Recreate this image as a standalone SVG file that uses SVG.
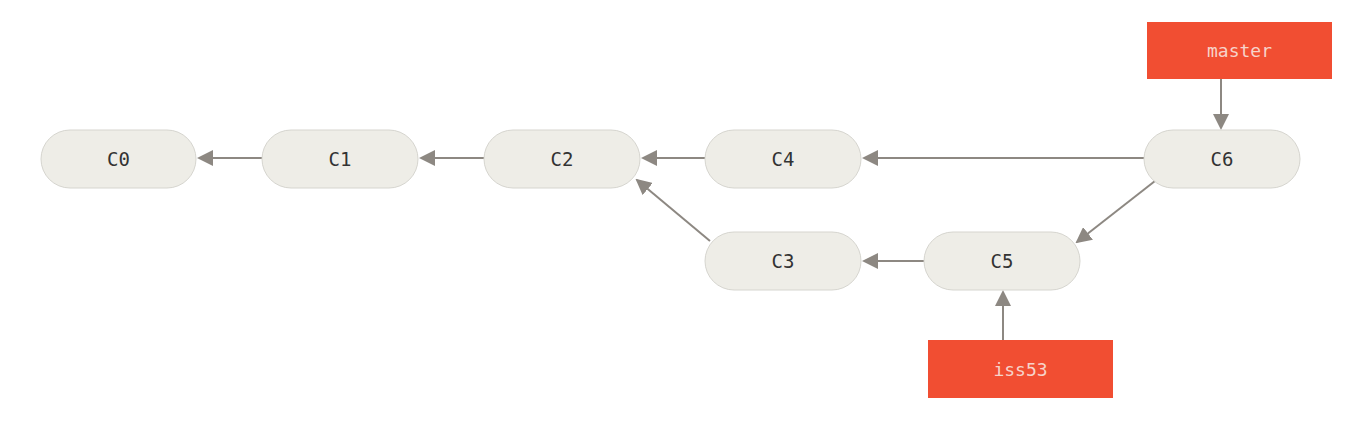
<svg xmlns="http://www.w3.org/2000/svg" width="1366" height="436" viewBox="0 0 1366 436">
<style>
.commit rect{fill:#eeede7;stroke:#d6d5cf;stroke-width:1}
.commit text{font-family:"DejaVu Sans Mono","Liberation Mono",monospace;font-size:19px;fill:#333;text-anchor:middle;dominant-baseline:central}
.branch rect{fill:#f14e32}
.branch text{font-family:"DejaVu Sans Mono","Liberation Mono",monospace;font-size:18px;fill:#f7d3ca;text-anchor:middle;dominant-baseline:central}
.conn line{stroke:#8d8882;stroke-width:2;marker-end:url(#ah)}
</style>
<defs>
<marker id="ah" markerWidth="8" markerHeight="8" refX="7" refY="4" orient="auto" markerUnits="strokeWidth">
<path d="M0,0 L8,4 L0,8 Z" fill="#8d8882"/>
</marker>
</defs>
<rect width="1366" height="436" fill="#fff"/>
<g class="conn">
<line x1="262" y1="158" x2="199" y2="158"/>
<line x1="484" y1="158" x2="421" y2="158"/>
<line x1="705" y1="158" x2="643" y2="158"/>
<line x1="1144" y1="158" x2="864" y2="158"/>
<line x1="924" y1="261" x2="864" y2="261"/>
<line x1="710" y1="241" x2="637" y2="180"/>
<line x1="1155" y1="181" x2="1077" y2="242"/>
<line x1="1221" y1="79" x2="1221" y2="128"/>
<line x1="1003" y1="340" x2="1003" y2="292"/>
</g>
<g id="C0" class="commit"><rect x="41" y="130" width="155" height="58" rx="29"/><text x="118.5" y="159">C0</text></g>
<g id="C1" class="commit"><rect x="262" y="130" width="156" height="58" rx="29"/><text x="340" y="159">C1</text></g>
<g id="C2" class="commit"><rect x="484" y="130" width="156" height="58" rx="29"/><text x="562" y="159">C2</text></g>
<g id="C4" class="commit"><rect x="705" y="130" width="156" height="58" rx="29"/><text x="783" y="159">C4</text></g>
<g id="C6" class="commit"><rect x="1144" y="130" width="156" height="58" rx="29"/><text x="1222" y="159">C6</text></g>
<g id="C3" class="commit"><rect x="705" y="232" width="156" height="58" rx="29"/><text x="783" y="261">C3</text></g>
<g id="C5" class="commit"><rect x="924" y="232" width="156" height="58" rx="29"/><text x="1002" y="261">C5</text></g>
<g id="master" class="branch"><rect x="1147" y="22" width="185" height="57"/><text x="1239.5" y="50.5">master</text></g>
<g id="iss53" class="branch"><rect x="928" y="340" width="185" height="58"/><text x="1020.5" y="369">iss53</text></g>
</svg>
